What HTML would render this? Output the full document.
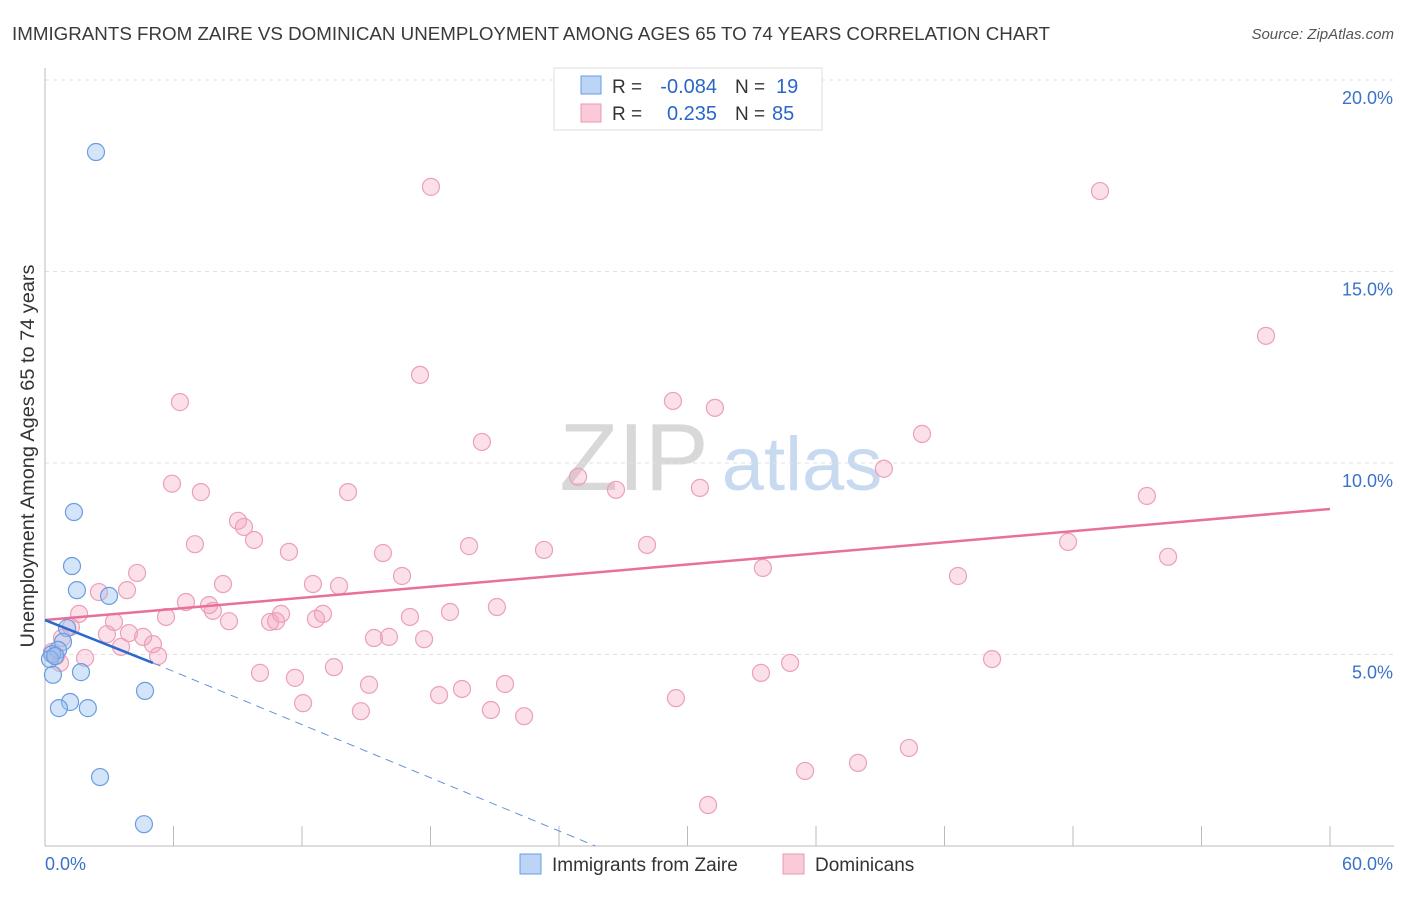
<!DOCTYPE html>
<html><head><meta charset="utf-8"><style>
body{margin:0;background:#fff;font-family:"Liberation Sans",sans-serif}
svg text{font-family:"Liberation Sans",sans-serif}
</style></head><body>
<svg id="chart" width="1406" height="892" viewBox="0 0 1406 892">
<text x="12" y="40" font-size="18" fill="#3a3a3a" textLength="1038" lengthAdjust="spacingAndGlyphs">IMMIGRANTS FROM ZAIRE VS DOMINICAN UNEMPLOYMENT AMONG AGES 65 TO 74 YEARS CORRELATION CHART</text>
<text x="1394" y="39" font-size="15" fill="#555" font-style="italic" text-anchor="end">Source: ZipAtlas.com</text>
<g><text x="634" y="490" font-size="96" fill="#d8d8d8" text-anchor="middle" font-family="Liberation Serif">ZIP</text><text x="802" y="490" font-size="76" fill="#c8daf0" text-anchor="middle">atlas</text></g>
<g id="grid"></g>
<g id="axes"></g>
<g id="marks"></g>
<text transform="translate(34,456) rotate(-90)" font-size="19" fill="#333" text-anchor="middle" textLength="383" lengthAdjust="spacingAndGlyphs">Unemployment Among Ages 65 to 74 years</text>
<g>
<rect x="554" y="68" width="268" height="62" fill="#fff" stroke="#ddd"/>
<rect x="581" y="76" width="20" height="18" fill="#bcd4f5" stroke="#6a9de0"/>
<rect x="581" y="104" width="20" height="18" fill="#fbcad8" stroke="#e899b0"/>
<text x="612" y="93" font-size="19" fill="#333">R =</text>
<text x="717" y="93" font-size="20" fill="#2a66c8" text-anchor="end">-0.084</text>
<text x="735" y="93" font-size="19" fill="#333">N =</text>
<text x="776" y="93" font-size="20" fill="#2a66c8">19</text>
<text x="612" y="120" font-size="19" fill="#333">R =</text>
<text x="717" y="120" font-size="20" fill="#2a66c8" text-anchor="end">0.235</text>
<text x="735" y="120" font-size="19" fill="#333">N =</text>
<text x="772" y="120" font-size="20" fill="#2a66c8">85</text>
</g>
<g>
<rect x="520" y="854" width="21" height="20" fill="#bcd4f5" stroke="#6a9de0"/>
<text x="552" y="871" font-size="19" fill="#333">Immigrants from Zaire</text>
<rect x="783" y="854" width="21" height="20" fill="#fbcad8" stroke="#e899b0"/>
<text x="815" y="871" font-size="19" fill="#333">Dominicans</text>
</g>
</svg>
<script>
const blueX=[2.38,1.35,1.26,1.49,2.99,1.03,0.84,0.61,0.33,0.23,0.37,1.68,4.67,1.17,0.65,2.0,2.57,4.62,0.47];
const blueY=[18.12,8.72,7.31,6.68,6.53,5.69,5.33,5.12,5.01,4.88,4.47,4.54,4.05,3.76,3.6,3.6,1.8,0.57,4.96];
const pinkX=[18.02,49.26,57.01,17.51,6.30,29.32,31.28,20.40,40.95,39.17,5.93,24.89,7.28,14.15,26.66,30.58,51.45,9.01,9.29,7.00,9.76,19.80,23.30,28.11,47.77,11.39,15.78,52.44,4.30,33.52,16.67,42.63,8.31,12.51,13.73,2.52,3.83,6.58,7.66,21.10,1.59,5.65,7.84,18.91,11.02,12.98,3.22,8.59,10.51,10.79,17.04,12.65,1.21,2.89,3.92,4.58,15.36,16.06,17.70,5.04,0.79,3.55,5.28,1.87,44.22,13.49,34.79,0.51,0.70,0.33,10.04,33.43,11.67,15.13,19.47,18.40,21.48,29.46,12.05,20.82,14.75,22.37,40.34,37.96,35.49,30.96];
const pinkY=[17.21,17.10,13.32,12.30,11.59,11.62,11.44,10.55,10.76,9.85,9.46,9.64,9.24,9.24,9.30,9.35,9.14,8.49,8.33,7.88,7.99,7.83,7.73,7.86,7.94,7.68,7.65,7.55,7.13,7.26,7.05,7.05,6.84,6.84,6.79,6.63,6.68,6.37,6.29,6.24,6.06,5.98,6.14,6.11,6.06,6.06,5.85,5.87,5.85,5.87,5.98,5.93,5.72,5.53,5.56,5.46,5.43,5.46,5.40,5.27,5.43,5.20,4.96,4.91,4.88,4.67,4.78,4.96,4.78,5.07,4.52,4.52,4.39,4.21,4.10,3.94,4.23,3.86,3.73,3.55,3.52,3.39,2.56,2.17,1.96,1.07];
const yTicks=[5,10,15,20];
const yTickLabels=["5.0%","10.0%","15.0%","20.0%"];
const xTicks=[0,6,12,18,24,30,36,42,48,54,60];
const pinkTrend=[[0,5.90],[60,8.80]];
const blueTrendSolid=[[0,5.90],[5.04,4.78]];
const blueTrendDash=[[5.04,4.78],[25.7,0]];
const NS="http://www.w3.org/2000/svg";
const xs=v=>45+v/60*1285, ys=v=>846-v*38.3;
function mk(p,tag,at){const e=document.createElementNS(NS,tag);for(const k in at)e.setAttribute(k,at[k]);p.appendChild(e);return e;}
const grid=document.getElementById('grid'),axes=document.getElementById('axes'),marks=document.getElementById('marks');
yTicks.forEach((t,i)=>{
 const l=mk(grid,'line',{x1:45,x2:1394,y1:ys(t),y2:ys(t),stroke:'#e2e2e2','stroke-dasharray':'4,4'});
 
 
 const tx=mk(axes,'text',{x:1393,y:ys(t)+24,'font-size':18,fill:'#3a72c8','text-anchor':'end'});
 tx.textContent=yTickLabels[i];
 
 
});
const ya=mk(axes,'line',{x1:45,x2:45,y1:68,y2:846,stroke:'#bbb'});


const xa=mk(axes,'line',{x1:45,x2:1394,y1:846,y2:846,stroke:'#bbb'});


xTicks.forEach(t=>{const l=mk(axes,'line',{x1:xs(t),x2:xs(t),y1:826,y2:846,stroke:'#bbb'});
 
 });
const x0=mk(axes,'text',{x:45,y:870,'font-size':18,fill:'#3a72c8'});x0.textContent='0.0%';


const x1=mk(axes,'text',{x:1393,y:870,'font-size':18,fill:'#3a72c8','text-anchor':'end'});x1.textContent='60.0%';


pinkX.forEach((v,i)=>{const c=mk(marks,'circle',{cx:xs(v),cy:ys(pinkY[i]),r:8.5,fill:'rgba(244,160,188,0.32)',stroke:'#eca0b8','stroke-width':1.2});
 
 });
blueX.forEach((v,i)=>{const c=mk(marks,'circle',{cx:xs(v),cy:ys(blueY[i]),r:8.5,fill:'rgba(150,190,240,0.4)',stroke:'#6a9de0','stroke-width':1.2});
 
 });
const pl=mk(marks,'line',{x1:xs(pinkTrend[0][0]),y1:ys(pinkTrend[0][1]),x2:xs(pinkTrend[1][0]),y2:ys(pinkTrend[1][1]),stroke:'#e8709a','stroke-width':2.5});


const bl=mk(marks,'line',{x1:xs(blueTrendSolid[0][0]),y1:ys(blueTrendSolid[0][1]),x2:xs(blueTrendSolid[1][0]),y2:ys(blueTrendSolid[1][1]),stroke:'#2a6ad0','stroke-width':2.5});


const bd=mk(marks,'line',{x1:xs(blueTrendDash[0][0]),y1:ys(blueTrendDash[0][1]),x2:xs(blueTrendDash[1][0]),y2:ys(blueTrendDash[1][1]),stroke:'#6a90d8','stroke-width':1,'stroke-dasharray':'8,6'});


</script>
</body></html>
